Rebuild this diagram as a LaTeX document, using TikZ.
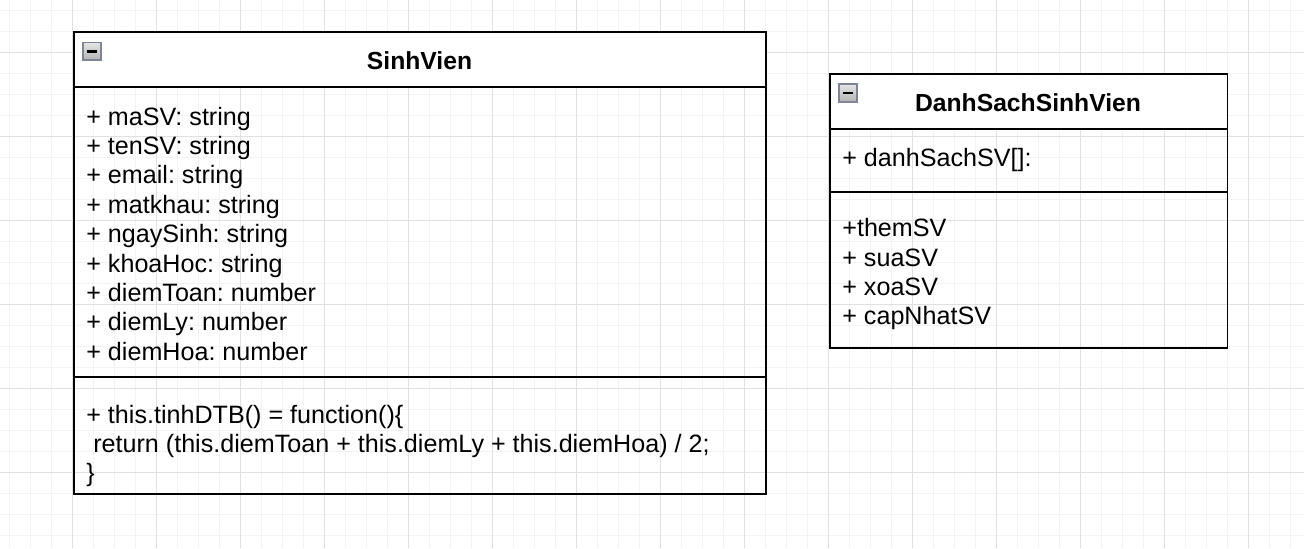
\documentclass[tikz,border=0pt]{standalone}
\usepackage{fontspec}
\setmainfont{Liberation Sans}
\usetikzlibrary{positioning}
\frenchspacing

\definecolor{gridminor}{HTML}{F3F3F3}
\definecolor{gridmajor}{HTML}{E0E0E0}
\definecolor{iconedge}{HTML}{7D8594}

\begin{document}
\begin{tikzpicture}[x=0.02cm,y=-0.02cm,
  minor/.style={draw=gridminor,line width=0.57pt},
  major/.style={draw=gridmajor,line width=0.57pt},
  head/.style={draw,fill=white,line width=1.1pt,anchor=north west,inner sep=0pt},
  comp/.style={draw,line width=1.1pt,anchor=north west,inner sep=0pt},
  icon/.style={draw=iconedge,line width=0.9pt,top color=gray!20,bottom color=gray!60,minimum size=0.36cm,inner sep=0pt,anchor=north west},
  txt/.style={anchor=base west,inner sep=0pt,font=\fontsize{14.3}{16.73}\selectfont},
  title/.style={anchor=base,inner sep=0pt,font=\fontsize{14.05}{16.73}\selectfont\bfseries}]
\useasboundingbox (0,0) rectangle (1304,548);
\fill[white] (0,0) rectangle (1304,548);

% grid
\foreach \gx in {9.3,30.3,...,1304} \draw[minor] (\gx,0) -- (\gx,548);
\foreach \gy in {10.3,31.3,...,548} \draw[minor] (0,\gy) -- (1304,\gy);
\foreach \gx in {72.3,156.3,...,1304} \draw[major] (\gx,0) -- (\gx,548);
\foreach \gy in {52.3,136.3,...,548} \draw[major] (0,\gy) -- (1304,\gy);

% SinhVien
\node[head,minimum width=13.86cm,minimum height=1.1cm] (svhead) at (72.6,31) {};
\node[comp,minimum width=13.86cm,minimum height=5.8cm] (svattr) at (72.6,86) {};
\node[comp,minimum width=13.86cm,minimum height=2.34cm] (svops) at (72.6,376) {};
\node[icon] (svicon) at (82,41.5) {};
\draw[line width=1.4pt] ([xshift=0.09cm]svicon.west) -- ([xshift=-0.09cm]svicon.east);
\node[title] (sv) at (419.5,69.5) {SinhVien};
\node[txt] (masv) at (86,125) {+ maSV: string};
\node[txt] (tensv) at (86,154.4) {+ tenSV: string};
\node[txt] (email) at (86,183.8) {+ email: string};
\node[txt] (matkhau) at (86,213.2) {+ matkhau: string};
\node[txt] (ngaysinh) at (86,242.6) {+ ngaySinh: string};
\node[txt] (khoahoc) at (86,272) {+ khoaHoc: string};
\node[txt] (diemtoan) at (86,301.4) {+ diemToan: number};
\node[txt] (diemly) at (86,330.8) {+ diemLy: number};
\node[txt] (diemhoa) at (86,360.2) {+ diemHoa: number};
\node[txt] (tinhdtb) at (86,423) {+ this.tinhDTB() = function()\{};
\node[txt] (ret) at (86,452.4) {\ return (this.diemToan + this.diemLy + this.diemHoa) / 2;};
\node[txt] (close) at (86,481.8) {\}};

% DanhSachSinhVien
\node[head,minimum width=7.96cm,minimum height=1.1cm] (dshead) at (828.6,73) {};
\node[comp,minimum width=7.96cm,minimum height=1.26cm] (dsattr) at (828.6,128) {};
\node[comp,minimum width=7.96cm,minimum height=3.12cm] (dsops) at (828.6,191) {};
\node[icon] (dsicon) at (838.3,83.3) {};
\draw[line width=1.4pt] ([xshift=0.09cm]dsicon.west) -- ([xshift=-0.09cm]dsicon.east);
\node[title] (ds) at (1028,111.5) {DanhSachSinhVien};
\node[txt] (dssv) at (842,166) {+ danhSachSV[]:};
\node[txt] (themsv) at (842,236.7) {+themSV};
\node[txt] (suasv) at (842,266.1) {+ suaSV};
\node[txt] (xoasv) at (842,295.5) {+ xoaSV};
\node[txt] (capnhat) at (842,324.9) {+ capNhatSV};
\end{tikzpicture}
\end{document}
